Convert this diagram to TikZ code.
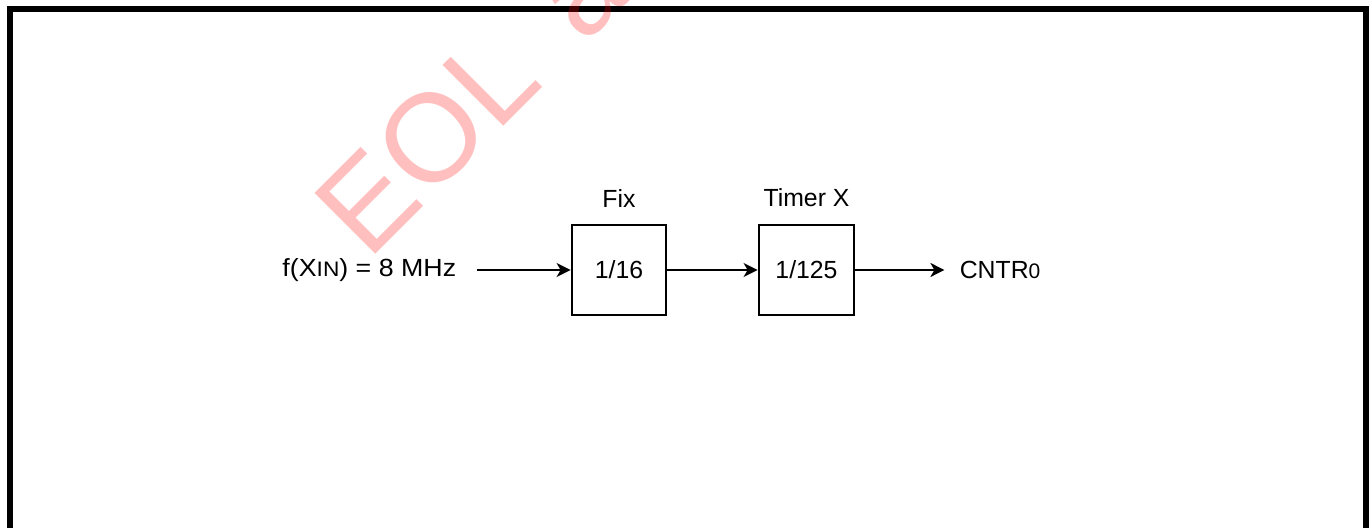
\documentclass[tikz,border=0pt]{standalone}
\usepackage{fontspec}
\setmainfont{Liberation Sans}
\usetikzlibrary{arrows.meta,positioning}

\newcommand{\lowsz}[1]{{\fontsize{10.5pt}{12pt}\selectfont #1}}

\begin{document}
\begin{tikzpicture}[x=0.5pt,y=-0.5pt,
    blk/.style={draw,line width=1.4pt,minimum width=47pt,minimum height=45pt,inner sep=0pt},
    lbl/.style={inner sep=0pt},
    sig/.style={line width=1pt,-{Stealth[length=7pt,width=7pt,inset=2pt]}},
    wmark/.style={text=red,text opacity=0.25,inner sep=0pt,
      font={\fontsize{62.5pt}{64pt}\selectfont\spaceskip=0.44em\relax}}]
  \useasboundingbox (0,0) rectangle (1369,528);
  \fontsize{12.4pt}{15pt}\selectfont
  % Frame (open at the bottom)
  \draw[line width=3pt] (10,528) -- (10,9.5) -- (1366,9.5) -- (1366,528);
  % Blocks
  \node[blk] (fix) at (619,270) {1/16};
  \node[blk,minimum width=47.5pt] (tmx) at (806.5,270) {1/125};
  \node[lbl,above=8pt of fix] (fixlbl) {Fix};
  \node[lbl,above=8pt of tmx] (tmxlbl) {Timer X};
  % Input and output
  \node[inner xsep=10pt,inner ysep=0pt,left=47pt of fix,
    font=\addfontfeatures{FakeStretch=1.08}] (xin) {f(X\lowsz{IN}) = 8 MHz};
  \node[inner xsep=7.5pt,inner ysep=0pt,right=44.5pt of tmx] (cntr) {CNTR\lowsz{0}};
  \draw[sig] (xin) -- (fix);
  \draw[sig] (fix) -- (tmx);
  \draw[sig] (tmx) -- (cntr);
  % Watermark
  \begin{scope}
    \clip (0,0) rectangle (1369,528);
    \node[wmark,rotate=45,anchor=base west] (wm) at (368,262) {EOL a};
  \end{scope}
\end{tikzpicture}
\end{document}
